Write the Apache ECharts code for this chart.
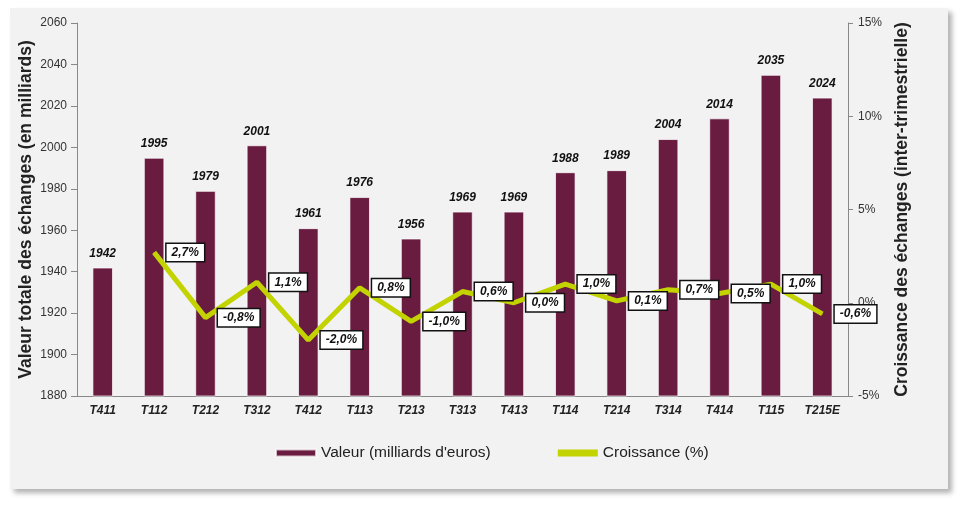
<!DOCTYPE html>
<html>
<head>
<meta charset="utf-8">
<script src="https://cdn.jsdelivr.net/npm/echarts@6/dist/echarts.min.js"></script>
<style>
  html, body { margin: 0; padding: 0; background: #fff; }
  .panel {
    position: absolute; left: 10px; top: 8px; width: 938px; height: 481px;
    background: #f2f2f2; box-shadow: 4px 4px 5px rgba(0,0,0,0.3);
  }
  #chart { position: absolute; left: 0; top: 0; width: 963px; height: 505px; }
</style>
</head>
<body>
<div class="panel"></div>
<div id="chart"></div>
<script>
const categories = ['T411', 'T112', 'T212', 'T312', 'T412', 'T113', 'T213', 'T313', 'T413', 'T114', 'T214', 'T314', 'T414', 'T115', 'T215E']
const valeur = [1942, 1995, 1979, 2001, 1961, 1976, 1956, 1969, 1969, 1988, 1989, 2004, 2014, 2035, 2024]
const croissance = [null, 2.7, -0.8, 1.1, -2.0, 0.8, -1.0, 0.6, 0.0, 1.0, 0.1, 0.7, 0.5, 1.0, -0.6]

const font = '"Liberation Sans", Arial, sans-serif'
const pct = v => v.toFixed(1).replace('.', ',') + '%'

const chart = echarts.init(document.getElementById('chart'))
chart.setOption({
  backgroundColor: 'transparent',
  textStyle: { fontFamily: font },
  grid: { left: 77, right: 115, top: 23, bottom: 109 },
  legend: {
    bottom: 39,
    left: 270,
    itemGap: 67,
    itemWidth: 40,
    itemHeight: 7,
    textStyle: { fontSize: 15.5, color: '#222', fontFamily: font },
    data: [
      { name: "Valeur (milliards d'euros)", icon: 'rect' },
      { name: 'Croissance (%)', icon: 'rect' },
    ],
  },
  xAxis: {
    type: 'category',
    data: categories,
    axisLine: { onZero: false, lineStyle: { color: '#888' } },
    axisTick: { length: 6, lineStyle: { color: '#888' } },
    axisLabel: { color: '#222', fontSize: 12, fontWeight: 'bold', fontStyle: 'italic', margin: 9 },
  },
  yAxis: [
    {
      type: 'value',
      min: 1880,
      max: 2060,
      interval: 20,
      name: 'Valeur totale des échanges (en milliards)',
      nameLocation: 'middle',
      nameRotate: 90,
      nameGap: 42,
      nameMoveOverlap: false,
      nameTextStyle: { fontSize: 17.5, fontWeight: 'bold', color: '#222' },
      axisLine: { show: true, lineStyle: { color: '#888' } },
      axisTick: { show: true, length: 6, lineStyle: { color: '#888' } },
      axisLabel: { color: '#333', fontSize: 12, margin: 10, formatter: v => String(v) },
      splitLine: { show: false },
    },
    {
      type: 'value',
      min: -5,
      max: 15,
      interval: 5,
      position: 'right',
      name: 'Croissance des échanges (inter-trimestrielle)',
      nameLocation: 'middle',
      nameRotate: 90,
      nameGap: 44,
      nameTextStyle: { fontSize: 17.5, fontWeight: 'bold', color: '#222' },
      axisLine: { show: true, lineStyle: { color: '#888' } },
      axisTick: { show: true, length: 5, lineStyle: { color: '#888' } },
      axisLabel: { color: '#333', fontSize: 12, margin: 10, formatter: v => v + '%' },
      splitLine: { show: false },
    },
  ],
  series: [
    {
      name: "Valeur (milliards d'euros)",
      type: 'bar',
      data: valeur,
      barWidth: '40%',
      itemStyle: { color: '#6a1b40', borderColor: 'rgba(255,255,255,0.7)', borderWidth: 1 },
      label: {
        show: true,
        position: 'top',
        distance: 8,
        color: '#111',
        fontSize: 12,
        fontWeight: 'bold',
        fontStyle: 'italic',
        formatter: p => String(p.value),
      },
    },
    {
      name: 'Croissance (%)',
      type: 'line',
      yAxisIndex: 1,
      data: croissance,
      symbol: 'circle',
      symbolSize: 1,
      showSymbol: true,
      lineStyle: { color: '#c2d300', width: 5 },
      itemStyle: { color: '#c2d300' },
      label: {
        show: true,
        position: 'right',
        distance: 12,
        formatter: p => pct(p.value),
        color: '#111',
        fontSize: 12,
        fontWeight: 'bold',
        fontStyle: 'italic',
        backgroundColor: '#fff',
        borderColor: '#111',
        borderWidth: 1.5,
        padding: [3, 5, 2, 5],
      },
    },
  ],
})
</script>
</body>
</html>
